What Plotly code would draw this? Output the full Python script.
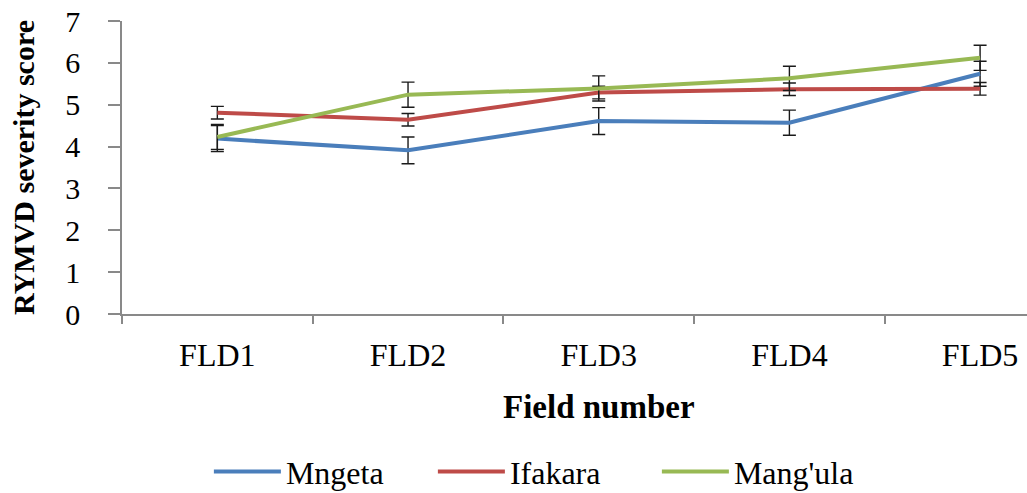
import plotly.graph_objects as go

fields = ["FLD1", "FLD2", "FLD3", "FLD4", "FLD5"]
mngeta = [4.19, 3.91, 4.61, 4.57, 5.74]
mngeta_err = [0.31, 0.32, 0.32, 0.30, 0.30]
ifakara = [4.81, 4.64, 5.29, 5.37, 5.38]
ifakara_err = [0.15, 0.15, 0.15, 0.15, 0.15]
mangula = [4.23, 5.24, 5.39, 5.63, 6.12]
mangula_err = [0.30, 0.30, 0.30, 0.29, 0.30]
y_ticks = [0, 1, 2, 3, 4, 5, 6, 7]

series = [
    ("Mngeta", mngeta, mngeta_err, "#4A7EBB"),
    ("Ifakara", ifakara, ifakara_err, "#BE4B48"),
    ("Mang'ula", mangula, mangula_err, "#98B954"),
]

fig = go.Figure()
for name, vals, errs, col in series:
    fig.add_trace(go.Scatter(
        x=fields, y=vals, name=name, mode="lines",
        line=dict(color=col, width=4),
        error_y=dict(type="data", array=errs, visible=True,
                     color="#1a1a1a", thickness=1.4, width=6.5),
    ))

serif = "Liberation Serif, Times New Roman, serif"

fig.update_layout(
    width=1027, height=493,
    margin=dict(l=122, r=0, t=21, b=179, autoexpand=False),
    paper_bgcolor="white", plot_bgcolor="white",
    font=dict(family=serif, color="black"),
    showlegend=True,
    legend=dict(orientation="h", x=0.096, xanchor="left", y=-0.538, yanchor="middle",
                font=dict(family=serif, size=32, color="black"),
                itemwidth=67, entrywidth=142, tracegroupgap=0,
                bgcolor="rgba(0,0,0,0)"),
    xaxis=dict(
        type="category", range=[-0.5, 4.246], automargin=False,
        showline=True, linecolor="#898989", linewidth=1.5,
        ticks="outside", ticklen=8, tickcolor="#898989", tickwidth=1.5,
        tickson="boundaries", showgrid=False, zeroline=False,
        tickfont=dict(family=serif, size=32, color="black"),
        ticklabelstandoff=12, ticklabeloverflow="allow",
    ),
    yaxis=dict(
        range=[0, 7], tickvals=y_ticks, automargin=False,
        showline=True, linecolor="#898989", linewidth=1.5,
        ticks="outside", ticklen=12, tickcolor="#898989", tickwidth=1.5,
        showgrid=False, zeroline=False,
        tickfont=dict(family=serif, size=30, color="black"),
        ticklabelstandoff=22, ticklabeloverflow="allow",
        title=dict(text="<b>RYMVD severity score</b>",
                   font=dict(family=serif, size=30, color="black"),
                   standoff=22),
    ),
    annotations=[dict(
        text="<b>Field number</b>", xref="paper", yref="paper",
        x=0.527, y=-0.317, xanchor="center", yanchor="middle",
        showarrow=False, font=dict(family=serif, size=33, color="black"),
    )],
)

fig.write_html("out.html", config={"displayModeBar": False},
               post_script="document.body.style.margin='0px';")
